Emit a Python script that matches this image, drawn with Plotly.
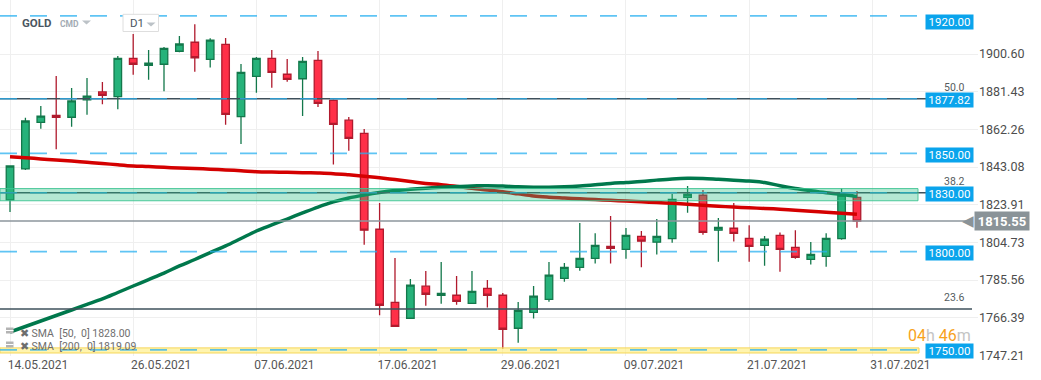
import plotly.graph_objects as go

# ---------------- data ----------------
dates = [
    "2021-05-14", "2021-05-17", "2021-05-18", "2021-05-19", "2021-05-20", "2021-05-21",
    "2021-05-24", "2021-05-25", "2021-05-26", "2021-05-27", "2021-05-28", "2021-05-31",
    "2021-06-01", "2021-06-02", "2021-06-03", "2021-06-04", "2021-06-07", "2021-06-08",
    "2021-06-09", "2021-06-10", "2021-06-11", "2021-06-14", "2021-06-15", "2021-06-16",
    "2021-06-17", "2021-06-18", "2021-06-21", "2021-06-22", "2021-06-23", "2021-06-24",
    "2021-06-25", "2021-06-28", "2021-06-29", "2021-06-30", "2021-07-01", "2021-07-02",
    "2021-07-05", "2021-07-06", "2021-07-07", "2021-07-08", "2021-07-09", "2021-07-12",
    "2021-07-13", "2021-07-14", "2021-07-15", "2021-07-16", "2021-07-19", "2021-07-20",
    "2021-07-21", "2021-07-22", "2021-07-23", "2021-07-26", "2021-07-27", "2021-07-28",
    "2021-07-29", "2021-07-30",
]
open_ = [1826.3, 1842.1, 1865.8, 1869.4, 1868.4, 1877.3, 1881.3, 1878.9, 1898.4, 1894.8,
         1895.4, 1902.0, 1906.6, 1897.9, 1905.5, 1868.7, 1889.2, 1898.4, 1890.3, 1888.0,
         1897.4, 1877.0, 1866.9, 1860.2, 1811.4, 1774.2, 1766.1, 1782.4, 1777.8, 1777.8,
         1773.7, 1781.3, 1777.8, 1761.0, 1769.1, 1775.7, 1786.4, 1792.0, 1796.6, 1802.7,
         1801.2, 1807.8, 1804.8, 1806.6, 1827.6, 1828.7, 1810.9, 1811.9, 1806.8, 1803.2,
         1808.3, 1802.2, 1796.1, 1797.6, 1806.6, 1827.6]
high_ = [1843.9, 1868.2, 1874.1, 1889.4, 1883.3, 1888.4, 1886.4, 1899.6, 1910.8, 1902.6,
         1904.2, 1909.8, 1915.7, 1908.6, 1908.7, 1895.5, 1899.1, 1902.6, 1898.1, 1899.1,
         1902.1, 1877.5, 1868.5, 1862.4, 1824.8, 1796.8, 1786.1, 1790.1, 1794.7, 1787.6,
         1790.1, 1785.6, 1778.9, 1774.4, 1782.5, 1794.7, 1794.2, 1814.6, 1809.4, 1818.1,
         1812.0, 1810.5, 1816.6, 1829.3, 1833.4, 1831.4, 1817.1, 1824.8, 1813.4, 1808.0,
         1809.8, 1810.9, 1804.9, 1809.4, 1832.2, 1830.9]
low_ = [1820.2, 1841.6, 1862.6, 1852.1, 1863.6, 1869.7, 1875.0, 1872.5, 1890.1, 1887.5,
        1881.6, 1901.5, 1891.6, 1893.8, 1864.6, 1854.8, 1880.9, 1883.4, 1886.5, 1869.0,
        1873.6, 1844.3, 1851.4, 1803.5, 1767.6, 1761.8, 1766.0, 1772.5, 1773.5, 1773.0,
        1773.6, 1771.5, 1750.4, 1753.6, 1765.9, 1774.5, 1784.7, 1790.3, 1793.9, 1793.9,
        1796.4, 1792.0, 1798.6, 1804.5, 1819.8, 1808.6, 1794.9, 1805.1, 1794.9, 1792.8,
        1789.8, 1796.4, 1793.4, 1792.3, 1806.1, 1812.2]
close_ = [1843.6, 1866.5, 1869.0, 1868.4, 1876.7, 1879.2, 1879.6, 1898.4, 1895.4, 1896.0,
          1903.5, 1905.7, 1898.7, 1907.7, 1869.9, 1891.3, 1898.4, 1891.3, 1887.7, 1896.9,
          1875.5, 1864.8, 1857.7, 1810.9, 1772.7, 1762.0, 1782.9, 1778.3, 1778.8, 1774.7,
          1779.8, 1777.8, 1760.5, 1770.1, 1777.3, 1788.0, 1792.0, 1796.6, 1803.2, 1801.7,
          1808.3, 1805.3, 1807.8, 1826.6, 1829.2, 1809.8, 1812.4, 1809.3, 1802.7, 1806.3,
          1801.2, 1797.1, 1798.6, 1806.8, 1828.7, 1815.55]
sma50 = [1759.1, 1761.9, 1764.7, 1767.5, 1770.3, 1773.1, 1775.9, 1779.2, 1782.5, 1785.8,
         1789.1, 1792.7, 1796.0, 1799.5, 1802.9, 1806.7, 1810.5, 1813.6, 1816.6, 1819.7,
         1822.7, 1825.3, 1827.3, 1828.8, 1830.1, 1831.1, 1831.7, 1832.3, 1832.8, 1833.2,
         1833.4, 1833.6, 1833.4, 1833.0, 1832.8, 1832.8, 1833.0, 1833.4, 1834.0, 1834.7,
         1835.2, 1835.7, 1836.4, 1837.0, 1837.3, 1837.2, 1836.8, 1836.4, 1835.9, 1835.2,
         1833.5, 1832.1, 1831.0, 1830.0, 1829.2, 1828.0]
sma200 = [1848.3, 1847.8, 1847.2, 1846.6, 1846.1, 1845.5, 1844.9, 1844.2, 1843.6, 1843.3,
          1842.9, 1842.6, 1842.3, 1842.0, 1841.6, 1841.2, 1840.7, 1840.5, 1840.4, 1840.2,
          1840.0, 1839.7, 1839.1, 1838.4, 1837.6, 1836.7, 1835.7, 1834.7, 1834.1, 1833.2,
          1832.2, 1831.4, 1830.5, 1829.4, 1828.3, 1827.7, 1827.3, 1826.9, 1826.5, 1826.1,
          1825.8, 1825.4, 1825.0, 1824.6, 1824.1, 1823.6, 1823.1, 1822.7, 1822.3, 1822.0,
          1821.6, 1821.1, 1820.6, 1820.1, 1819.6, 1819.09]
tick_labels = ["14.05.2021", "26.05.2021", "07.06.2021", "17.06.2021",
               "29.06.2021", "09.07.2021", "21.07.2021", "31.07.2021"]
price_ticks = [1900.60, 1881.43, 1862.26, 1843.08, 1823.91, 1804.73, 1785.56, 1766.39, 1747.21]
level_lines = [1920.00, 1877.82, 1850.00, 1830.00, 1800.00, 1750.00]
fib_levels = ["50.0", "38.2", "23.6"]
fib_prices = [1877.82, 1830.00, 1770.83]
zone_green = [1825.9, 1832.1]
zone_yellow = [1748.4, 1751.0]
last_price = 1815.55
sma50_last = 1828.00
sma200_last = 1819.09
timer_hours, timer_minutes = "04", "46"

# ---------------- layout geometry ----------------
W, H = 1041, 380
MR, MB = 63, 24
PW, PH = W - MR, H - MB
y_range = [1746.87, 1928.1]
x_range = [-0.65, 62.86]


def px(p):
    return p / PW


def py(p):
    return 1 - p / PH


x = list(range(len(dates)))
FONT = "Roboto"

fig = go.Figure()
fig.add_trace(go.Candlestick(
    x=x, open=open_, high=high_, low=low_, close=close_,
    increasing=dict(line=dict(color="#13784b", width=1.3), fillcolor="#26b27a"),
    decreasing=dict(line=dict(color="#b01a2d", width=1.3), fillcolor="#ff3048"),
    whiskerwidth=0, showlegend=False, hoverinfo="skip", name="GOLD"))
fig.add_trace(go.Scatter(x=x, y=sma200, mode="lines", showlegend=False, hoverinfo="skip",
                         line=dict(color="#d40000", width=3.5, shape="spline")))
fig.add_trace(go.Scatter(x=x, y=sma50, mode="lines", showlegend=False, hoverinfo="skip",
                         line=dict(color="#00784c", width=3.5, shape="spline")))

shapes = []
# yellow zone
shapes.append(dict(type="rect", xref="paper", yref="y", x0=0, x1=px(919),
                   y0=zone_yellow[0], y1=zone_yellow[1], layer="above",
                   fillcolor="rgba(255,236,120,0.6)", line=dict(color="#f5d65a", width=1)))
# fib lines
for fp in fib_prices:
    shapes.append(dict(type="line", xref="paper", yref="y", x0=0, x1=px(972), y0=fp, y1=fp,
                       layer="above", line=dict(color="#3e505b", width=1.5)))
# dashed horizontal levels
for lv in level_lines:
    shapes.append(dict(type="line", xref="paper", yref="y", x0=0, x1=px(973), y0=lv, y1=lv,
                       layer="above",
                       line=dict(color="rgba(41,176,240,0.75)", width=1.6, dash="17px,13px")))
# green zone
shapes.append(dict(type="rect", xref="paper", yref="y", x0=0, x1=px(918),
                   y0=zone_green[0], y1=zone_green[1], layer="above",
                   fillcolor="rgba(40,190,130,0.35)", line=dict(color="rgba(60,195,145,0.9)", width=1)))
# current price line
shapes.append(dict(type="line", xref="paper", yref="y", x0=0, x1=px(968), y0=last_price,
                   y1=last_price, layer="above", line=dict(color="#8c969c", width=1.5)))
# D1 box in header
shapes.append(dict(type="rect", xref="paper", yref="paper", x0=px(123), x1=px(158.5),
                   y0=py(31.5), y1=py(14.3), fillcolor="white", line=dict(color="#dedede", width=1),
                   layer="above"))
# header dropdown triangles
for cx, cy in [(86.5, 20.5), (151, 22.5)]:
    shapes.append(dict(type="path", xref="paper", yref="paper",
                       path=(f"M{px(cx - 4.5)},{py(cy)} L{px(cx + 4.5)},{py(cy)} "
                             f"L{px(cx)},{py(cy + 4)} Z"),
                       fillcolor="#bcc2c7", line=dict(width=0), layer="above"))
# legend icons
for cy in [330.5, 344.5]:
    shapes.append(dict(type="rect", xref="paper", yref="paper", x0=px(6), x1=px(13.5),
                       y0=py(cy + 3), y1=py(cy - 3), fillcolor="#b3b3b3", line=dict(width=0),
                       layer="above"))
    shapes.append(dict(type="line", xref="paper", yref="paper", x0=px(6), x1=px(13.5),
                       y0=py(cy), y1=py(cy), line=dict(color="white", width=1), layer="above"))

ann = []
# blue level boxes
for lv in level_lines:
    shift = -1.5
    if lv == level_lines[0]:
        shift = -6
    ann.append(dict(xref="paper", yref="y", x=px(949), y=lv, yshift=shift, text=f"{lv:.2f}",
                    xanchor="center", yanchor="middle",
                    showarrow=False, bgcolor="#0aa4ec", width=45, height=12, borderpad=1,
                    font=dict(family=FONT, size=11.5, color="white")))
# fib labels
for fl, fp in zip(fib_levels, fib_prices):
    ann.append(dict(xref="paper", yref="y", x=px(967), y=fp, xanchor="right", yanchor="bottom",
                    yshift=3, text=fl, showarrow=False,
                    font=dict(family=FONT, size=10.5, color="#555c60")))
# price tag (arrow + box)
ann.append(dict(xref="paper", yref="y", x=px(976), y=last_price, xanchor="right", yanchor="middle",
                text="◀", showarrow=False, font=dict(family="DejaVu Sans", size=15, color="#8a9398")))
ann.append(dict(xref="paper", yref="y", x=px(974), y=last_price, xanchor="left", yanchor="middle",
                text=f"<b>{last_price:.2f}</b>", showarrow=False, bgcolor="#8a9398",
                width=52, height=16, borderpad=1,
                font=dict(family=FONT, size=13, color="white")))
# timer
ann.append(dict(xref="paper", yref="paper", x=px(973), y=py(335), xanchor="right", yanchor="middle",
                text=(f'<span style="color:#f7a21c">{timer_hours}</span>'
                      f'<span style="color:#c4c4c4">h</span> '
                      f'<span style="color:#f7a21c">{timer_minutes}</span>'
                      f'<span style="color:#c4c4c4">m</span>'),
                showarrow=False, font=dict(family=FONT, size=16)))
# header
ann.append(dict(xref="paper", yref="paper", x=px(20), y=py(23.3), xanchor="left", yanchor="middle",
                text="<b>GOLD</b>", showarrow=False,
                font=dict(family=FONT, size=11.5, color="#4b5661")))
ann.append(dict(xref="paper", yref="paper", x=px(58), y=py(24), xanchor="left", yanchor="middle",
                text="<b>CMD</b>", showarrow=False,
                font=dict(family=FONT, size=8.5, color="#a3abb3")))
ann.append(dict(xref="paper", yref="paper", x=px(127.5), y=py(23), xanchor="left", yanchor="middle",
                text="D1", showarrow=False, font=dict(family=FONT, size=11.5, color="#4b5661")))
# SMA legend
for cy, per, val in [(333, 50, sma50_last), (346.5, 200, sma200_last)]:
    ann.append(dict(xref="paper", yref="paper", x=px(18), y=py(cy), xanchor="left", yanchor="middle",
                    text=f"✖ SMA  [{per},  0] {val:.2f}", showarrow=False,
                    font=dict(family=FONT, size=10.5, color="#6e6e6e")))

fig.update_layout(
    width=W, height=H, margin=dict(l=0, r=MR, t=0, b=MB),
    paper_bgcolor="white", plot_bgcolor="white",
    shapes=shapes, annotations=ann, showlegend=False,
    font=dict(family=FONT),
    xaxis=dict(range=x_range, rangeslider=dict(visible=False), tickmode="array",
               tickvals=[0, 8, 16, 24, 32, 40, 48, 56], ticktext=tick_labels,
               showgrid=True, gridcolor="#efefef", gridwidth=1, zeroline=False, showline=False,
               ticks="", ticklabelshift=28, tickfont=dict(family=FONT, size=12, color="#555")),
    yaxis=dict(range=y_range, side="right", tickmode="array", tickvals=price_ticks,
               ticktext=[f"{t:.2f}" for t in price_ticks], showgrid=True, gridcolor="#efefef",
               gridwidth=1, zeroline=False, showline=False, ticks="",
               tickfont=dict(family=FONT, size=12.5, color="#4d4d4d")),
)

fig.write_html("out.html", config={"displayModeBar": False},
               post_script="document.body.style.margin='0';document.body.style.overflow='hidden';")
